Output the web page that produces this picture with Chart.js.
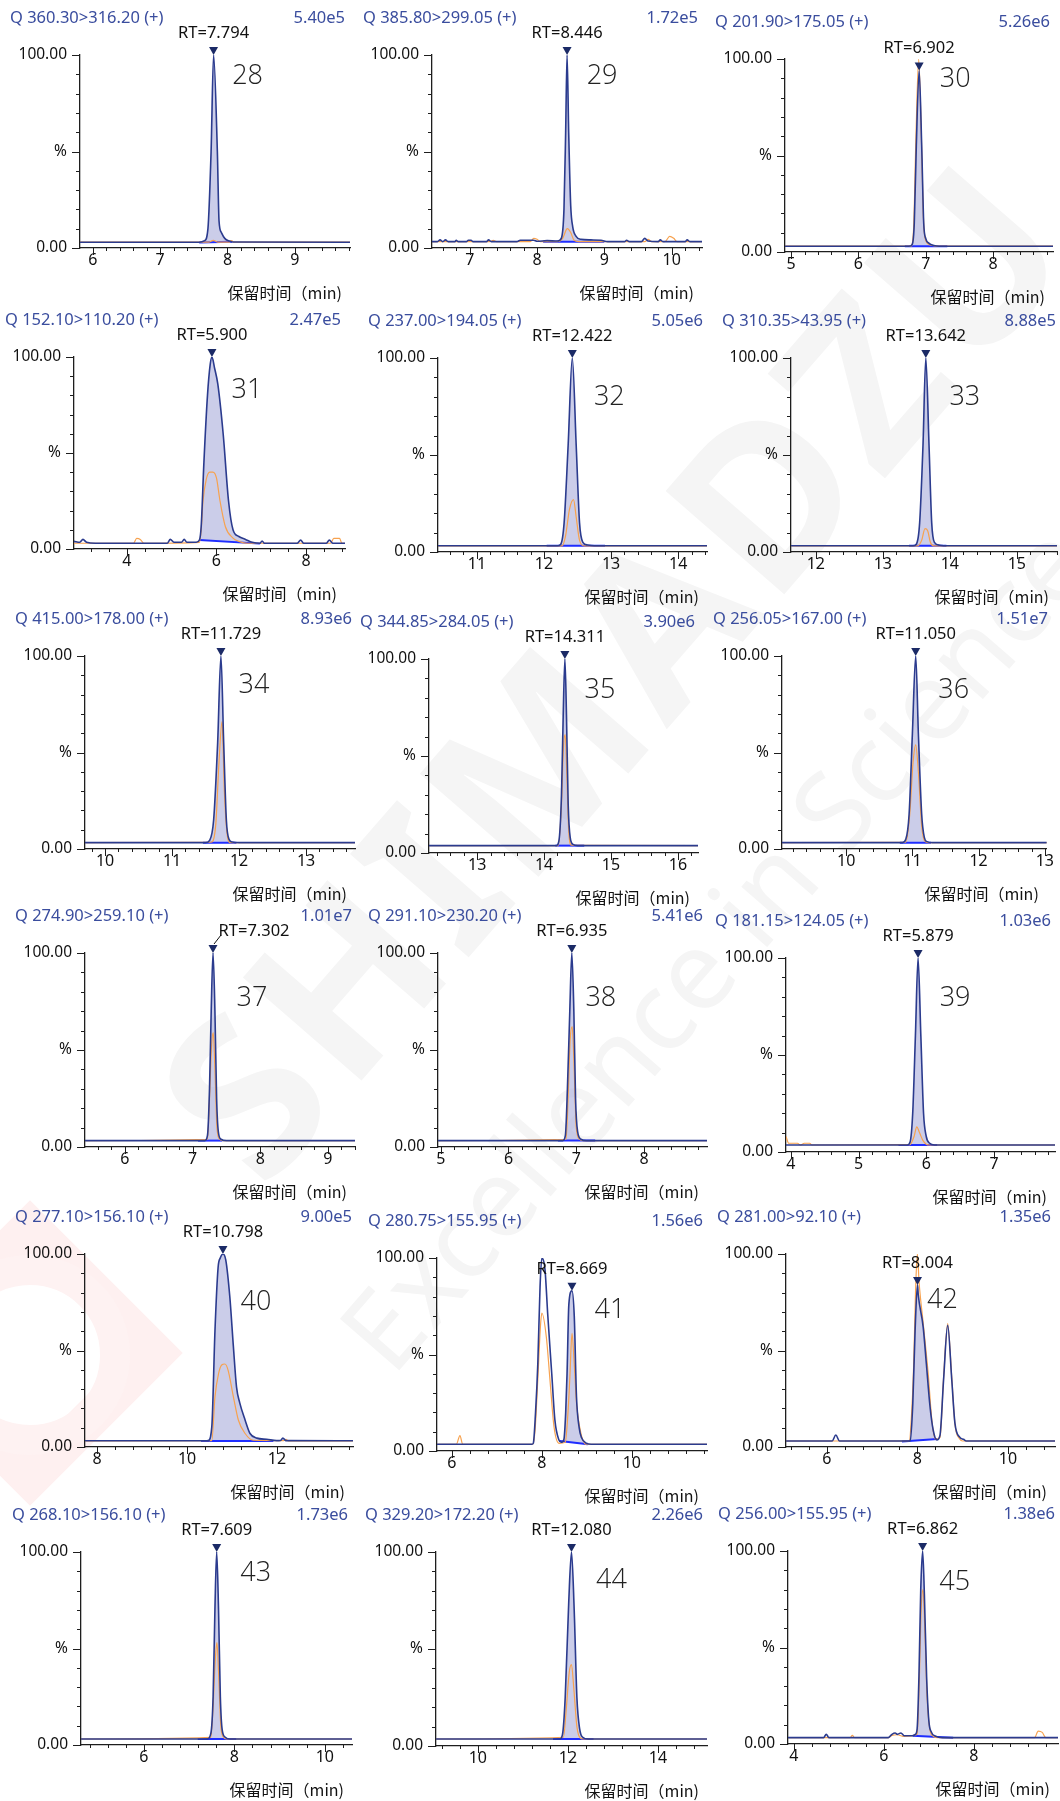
<!DOCTYPE html>
<html>
<head>
<meta charset="utf-8">
<script src="https://cdn.jsdelivr.net/npm/chart.js@4.4.1/dist/chart.umd.min.js"></script>
<style>
  body { margin: 0; background: #fff; }
  #page { position: relative; width: 1060px; height: 1801px; overflow: hidden; background: #fff; }
  #page canvas { position: absolute; }
  .wm { position: absolute; text-align: center; white-space: nowrap; color: #f5f5f5; font-family: "Noto Sans", sans-serif; }
  .logo { position: absolute; box-sizing: border-box; }
</style>
</head>
<body>
<div id="page">
  <div class="logo" style="left:-78px; top:1245px; width:216px; height:216px; border:38px solid #fef0f0; transform:rotate(45deg);"></div>
  <div class="logo" style="left:-70px; top:1255px; width:200px; height:200px; border:30px solid #fef2f2; border-radius:50%;"></div>
  <div class="wm" style="left:-90px; top:535px; width:1400px; height:260px; line-height:260px; font-size:220px; font-weight:700; letter-spacing:8px; transform:rotate(-49deg);">SHIMADZU</div>
  <div class="wm" style="left:12px; top:880px; width:1400px; height:130px; line-height:130px; font-size:110px; transform:rotate(-49deg);">Excellence in Science</div>
</div>
<script>
// Chromatograms for compounds 28-45 (MRM, normalised intensity %)

const compoundNos = [28, 29, 30, 31, 32, 33, 34, 35, 36, 37, 38, 39, 40, 41, 42, 43, 44, 45];
const transitions = [
  'Q 360.30>316.20 (+)', 'Q 385.80>299.05 (+)', 'Q 201.90>175.05 (+)',
  'Q 152.10>110.20 (+)', 'Q 237.00>194.05 (+)', 'Q 310.35>43.95 (+)',
  'Q 415.00>178.00 (+)', 'Q 344.85>284.05 (+)', 'Q 256.05>167.00 (+)',
  'Q 274.90>259.10 (+)', 'Q 291.10>230.20 (+)', 'Q 181.15>124.05 (+)',
  'Q 277.10>156.10 (+)', 'Q 280.75>155.95 (+)', 'Q 281.00>92.10 (+)',
  'Q 268.10>156.10 (+)', 'Q 329.20>172.20 (+)', 'Q 256.00>155.95 (+)'
];
const maxIntensity = [
  '5.40e5', '1.72e5', '5.26e6', '2.47e5', '5.05e6', '8.88e5',
  '8.93e6', '3.90e6', '1.51e7', '1.01e7', '5.41e6', '1.03e6',
  '9.00e5', '1.56e6', '1.35e6', '1.73e6', '2.26e6', '1.38e6'
];
const retentionTimes = [7.794, 8.446, 6.902, 5.900, 12.422, 13.642, 11.729, 14.311, 11.050,
  7.302, 6.935, 5.879, 10.798, 8.669, 8.004, 7.609, 12.080, 6.862];
const peakHeights = [100, 100, 94, 100, 100, 100, 100, 100, 100, 100, 100, 100, 100, 83, 84, 100, 100, 100];
const timeRanges = [
  [5.81, 9.82], [6.44, 10.45], [4.91, 8.89],
  [2.82, 8.87], [10.42, 14.43], [11.63, 15.60],
  [9.70, 13.73], [12.28, 16.30], [9.03, 13.03],
  [5.41, 9.40], [4.96, 8.93], [3.93, 7.90],
  [7.73, 13.69], [5.67, 11.67], [5.10, 11.04],
  [4.61, 10.60], [9.07, 15.09], [3.87, 9.87]
];
const majorSteps = [1, 1, 1, 2, 1, 1, 1, 1, 1, 1, 1, 1, 2, 2, 2, 2, 2, 2];
// integration baseline: [start time, start %, end time, end %]
const integrationWindows = [
  [7.58, 2.8, 8.07, 3.3], [8.09, 3.3, 9.0, 3.3], [6.69, 3.0, 7.32, 3.0],
  [5.62, 4.7, 6.97, 2.8], [12.04, 3.2, 12.91, 3.2], [13.39, 3.2, 13.95, 3.2],
  [11.46, 3.3, 11.96, 3.3], [14.17, 3.8, 14.60, 3.8], [10.81, 3.3, 11.28, 3.3],
  [7.08, 3.3, 7.44, 3.3], [6.73, 3.3, 7.28, 3.3], [5.59, 3.6, 6.16, 3.6],
  [10.31, 3.1, 11.92, 3.1], [8.40, 5.2, 9.02, 3.5], [7.66, 2.8, 8.44, 4.1],
  [7.19, 3.1, 8.04, 3.1], [11.67, 3.6, 12.57, 3.6], [6.64, 4.3, 7.54, 3.3]
];

// quantifier traces (blue) and qualifier traces (orange), [time, %]
const trace28 = [[5.81,3],[7.58,3],[7.66,3.8],[7.71,10],[7.757,50],[7.794,100],[7.85,50],[7.875,14],[7.91,8],[7.96,5],[8.03,3.6],[8.08,3.1],[9.82,3]];
const ion28 = [[5.81,3],[7.72,3],[7.79,4],[7.86,3],[8.02,3],[8.06,3.8],[8.1,3],[9.82,3]];
const trace29 = [[6.44,3.3],[6.52,3.3],[6.56,4.2],[6.6,3.3],[6.64,4.2],[6.68,3.3],[6.78,3.3],[6.8,4],[6.83,3.3],[6.95,3.3],[6.98,4],[7.02,4],[7.05,3.3],[7.25,3.3],[7.28,4.2],[7.32,3.3],[7.7,3.3],[7.75,4],[7.95,4],[8.0,3.5],[8.15,3.8],[8.3,3.6],[8.36,5],[8.40,20],[8.425,60],[8.446,100],[8.47,60],[8.50,22],[8.53,11],[8.58,6],[8.65,4.5],[8.8,4.2],[8.95,4],[9.05,3.3],[9.3,3.3],[9.33,4],[9.37,3.3],[9.55,3.3],[9.6,5],[9.65,3.6],[9.8,3.3],[9.83,4.2],[9.87,3.3],[10.2,3.3],[10.23,4.2],[10.27,3.3],[10.45,3.3]];
const ion29 = [[6.44,3.3],[7.3,3.3],[7.35,4],[7.4,3.3],[7.9,3.3],[7.95,5],[8.0,4.5],[8.05,3.3],[8.3,3.3],[8.38,5],[8.45,10],[8.5,8],[8.55,4],[8.62,3.3],[9.6,3.3],[9.65,4.5],[9.7,3.3],[9.9,3.3],[9.97,6],[10.03,5],[10.08,3.3],[10.45,3.3]];
const trace30 = [[4.91,3],[6.75,3],[6.80,4],[6.83,15],[6.86,55],[6.902,94],[6.94,55],[6.97,15],[7.0,7],[7.05,4.5],[7.12,3.4],[7.2,3],[8.89,3]];
const ion30 = [[4.91,3],[6.78,3],[6.82,12],[6.855,60],[6.895,100],[6.935,60],[6.965,18],[7.0,6],[7.08,3.6],[7.15,3],[8.89,3]];
const trace31 = [[2.82,4],[2.95,3.5],[3.02,5],[3.1,3.5],[3.3,3],[4.9,3],[4.97,5],[5.05,3.5],[5.22,3.5],[5.28,5],[5.34,3.5],[5.55,3.5],[5.62,4.7],[5.66,12],[5.72,45],[5.80,80],[5.86,96],[5.9,100],[5.96,94],[6.03,86],[6.15,60],[6.27,25],[6.37,10],[6.5,6.5],[6.65,5],[6.8,3.5],[6.97,3],[7.02,4.2],[7.07,3],[7.8,3],[7.88,4.6],[7.95,3],[8.45,3],[8.52,4.6],[8.6,3],[8.87,3]];
const ion31 = [[2.82,3],[4.15,3],[4.22,5.5],[4.3,5],[4.38,3],[5.62,3.5],[5.66,10],[5.70,25],[5.77,36],[5.85,40],[5.92,40],[6.0,37],[6.08,25],[6.2,11.6],[6.37,5.7],[6.5,4],[6.7,3],[8.55,3],[8.62,5.5],[8.75,5.5],[8.8,3],[8.87,3]];
const trace32 = [[10.42,3.2],[12.20,3.2],[12.25,4],[12.30,15],[12.36,55],[12.422,100],[12.48,55],[12.53,15],[12.58,5],[12.65,3.6],[12.75,3.2],[14.43,3.2]];
const ion32 = [[10.42,3.2],[12.27,3.2],[12.32,8],[12.38,22],[12.44,27],[12.48,18],[12.53,6],[12.6,3.2],[14.43,3.2]];
const trace33 = [[11.63,3.2],[13.45,3.2],[13.50,4],[13.55,15],[13.60,55],[13.642,100],[13.69,55],[13.73,15],[13.77,5],[13.85,3.5],[13.95,3.2],[15.60,3.2]];
const ion33 = [[11.63,3.2],[13.52,3.2],[13.58,6],[13.63,12],[13.67,11],[13.71,5],[13.76,3.2],[15.60,3.2]];
const trace34 = [[9.70,3.3],[11.50,3.3],[11.56,4.5],[11.62,15],[11.68,55],[11.729,100],[11.77,55],[11.81,15],[11.85,5],[11.9,3.6],[12.0,3.3],[13.73,3.3]];
const ion34 = [[9.70,3.3],[11.58,3.5],[11.65,12],[11.70,45],[11.745,66],[11.78,30],[11.82,8],[11.86,3.3],[13.73,3.3]];
const trace35 = [[12.28,3.8],[14.18,3.8],[14.22,6],[14.26,30],[14.285,70],[14.311,100],[14.335,70],[14.36,25],[14.39,8],[14.43,4.5],[14.5,3.8],[16.30,3.8]];
const ion35 = [[12.28,3.8],[14.21,3.8],[14.26,25],[14.29,55],[14.315,61],[14.34,40],[14.37,10],[14.41,4],[16.30,3.8]];
const trace36 = [[9.03,3.3],[10.85,3.3],[10.90,5],[10.95,18],[11.00,60],[11.05,100],[11.09,60],[11.14,18],[11.18,6],[11.22,3.8],[11.3,3.3],[13.03,3.3]];
const ion36 = [[9.03,3.3],[10.9,3.5],[10.96,18],[11.01,45],[11.05,54],[11.09,40],[11.14,12],[11.19,4],[11.25,3.3],[13.03,3.3]];
const trace37 = [[5.41,3.3],[7.18,3.3],[7.22,6],[7.25,30],[7.275,70],[7.302,100],[7.33,70],[7.355,25],[7.38,8],[7.42,4],[7.5,3.3],[9.40,3.3]];
const ion37 = [[5.41,3.3],[7.22,4],[7.25,25],[7.28,52],[7.305,59],[7.33,40],[7.36,10],[7.40,4],[7.45,3.3],[9.40,3.3]];
const trace38 = [[4.96,3.3],[6.80,3.3],[6.84,6],[6.87,30],[6.905,70],[6.935,100],[6.965,70],[6.99,25],[7.02,8],[7.07,4],[7.15,3.3],[8.93,3.3]];
const ion38 = [[4.96,3.3],[6.85,4],[6.88,25],[6.91,55],[6.94,62],[6.97,40],[7.0,10],[7.05,4],[7.1,3.3],[8.93,3.3]];
const trace39 = [[3.93,3.6],[5.72,3.6],[5.76,5],[5.80,20],[5.84,60],[5.879,100],[5.92,60],[5.96,20],[6.0,8],[6.05,4.5],[6.12,3.6],[7.90,3.6]];
const ion39 = [[3.93,8],[3.97,4.5],[4.1,4.5],[4.14,3.6],[4.2,4.5],[4.28,4.5],[4.31,3.6],[5.76,3.8],[5.82,8],[5.86,13],[5.9,10],[5.95,6],[6.0,4],[6.05,3.6],[7.90,3.6]];
const trace40 = [[7.73,3.2],[10.40,3.2],[10.47,3.3],[10.55,10.5],[10.62,60],[10.69,93],[10.74,98],[10.798,100],[10.86,97],[10.95,78],[11.03,52],[11.1,31],[11.17,23],[11.29,14],[11.4,7],[11.55,4.6],[11.77,4],[11.99,3.3],[12.08,3.4],[12.13,4.6],[12.2,3.3],[13.69,3.2]];
const ion40 = [[7.73,3.2],[10.55,3.3],[10.62,26],[10.7,38],[10.77,42.5],[10.84,43],[10.91,40],[11.03,26],[11.14,14],[11.29,7],[11.47,3.5],[12.15,3.3],[12.2,4],[12.25,3.2],[13.69,3.2]];
const trace41 = [[5.67,3.5],[7.78,3.5],[7.81,4],[7.86,20],[7.91,45],[7.96,85],[8.0,100],[8.07,94],[8.13,71],[8.22,40],[8.29,16],[8.38,5.7],[8.43,4.5],[8.49,6],[8.53,20],[8.56,40],[8.60,76],[8.669,83],[8.72,70],[8.77,28],[8.83,12],[8.88,7],[8.99,4],[9.1,3.5],[11.67,3.5]];
const ion41 = [[5.67,3.5],[6.1,3.5],[6.18,8],[6.24,3.5],[7.80,3.5],[7.85,11],[7.91,37],[7.97,65],[8.0,71.5],[8.1,59],[8.18,37],[8.27,12.6],[8.38,4],[8.52,4.5],[8.58,19.6],[8.62,37],[8.67,61],[8.72,45],[8.77,25],[8.88,8],[8.95,4],[9.0,3.5],[11.67,3.5]];
const trace42 = [[5.10,3.1],[6.12,3.1],[6.2,6.2],[6.28,3.1],[7.80,3.1],[7.84,3.3],[7.90,22.7],[7.95,60],[8.004,84],[8.02,79],[8.13,62],[8.20,43],[8.28,21],[8.35,8.8],[8.43,3.6],[8.50,6],[8.58,35],[8.67,63],[8.76,35],[8.83,12.4],[8.94,5],[9.02,4],[9.08,3.1],[11.04,3.1]];
const ion42 = [[5.10,3.1],[7.82,3.1],[7.88,20],[7.92,43],[7.96,80],[8.0,100],[8.04,85],[8.13,64],[8.24,38],[8.32,14],[8.4,4],[8.5,5],[8.58,36],[8.67,64],[8.76,36],[8.83,12],[8.94,4],[9.0,3.1],[11.04,3.1]];
const trace43 = [[4.61,3.1],[7.40,3.1],[7.48,6],[7.53,25],[7.57,70],[7.609,100],[7.65,70],[7.69,25],[7.73,8],[7.8,4],[7.9,3.1],[10.60,3.1]];
const ion43 = [[4.61,3.1],[7.48,4],[7.53,20],[7.58,45],[7.615,53],[7.65,38],[7.70,10],[7.76,4],[7.82,3.1],[10.60,3.1]];
const trace44 = [[9.07,3.6],[11.82,3.6],[11.88,6],[11.94,25],[12.02,75],[12.08,100],[12.14,70],[12.2,25],[12.26,9],[12.33,4.5],[12.45,3.6],[15.09,3.6]];
const ion44 = [[9.07,3.6],[11.9,4.5],[11.96,18],[12.03,38],[12.08,42],[12.13,30],[12.2,10],[12.28,4],[12.35,3.6],[15.09,3.6]];
const trace45 = [[3.87,3.3],[4.66,3.3],[4.72,5],[4.78,3.3],[6.1,3.3],[6.18,5],[6.25,5.7],[6.3,5],[6.38,5.7],[6.45,4.3],[6.64,4.3],[6.70,5],[6.74,8],[6.78,35],[6.82,80],[6.862,100],[6.90,78],[6.95,35],[7.0,12],[7.06,6],[7.15,4],[7.3,3.3],[9.87,3.3]];
const ion45 = [[3.87,3.3],[5.25,3.3],[5.3,4.5],[5.35,3.3],[6.1,3.3],[6.18,4.5],[6.3,4.8],[6.42,4],[6.74,5],[6.79,35],[6.83,70],[6.87,80],[6.91,60],[6.96,25],[7.02,8],[7.1,4],[7.2,3.3],[9.35,3.3],[9.43,6.7],[9.52,6],[9.6,3.3],[9.87,3.3]];

const traces = [trace28, trace29, trace30, trace31, trace32, trace33, trace34, trace35, trace36,
  trace37, trace38, trace39, trace40, trace41, trace42, trace43, trace44, trace45];
const ions = [ion28, ion29, ion30, ion31, ion32, ion33, ion34, ion35, ion36,
  ion37, ion38, ion39, ion40, ion41, ion42, ion43, ion44, ion45];

// panel placement on the page (px)
const axisLeft = [80, 432, 785, 74, 438, 791, 85, 429, 782, 85, 438, 786, 85, 437, 786, 81, 436, 788];
const axisRight = [350, 702, 1053, 345, 707, 1057, 355, 698, 1051, 355, 707, 1055, 353, 707, 1055, 352, 707, 1058];
const axisTop = [55, 55, 59, 357, 358, 358, 656, 659, 656, 953, 953, 958, 1254, 1258, 1254, 1552, 1552, 1551];
const axisBottom = [248, 248, 252, 549, 552, 552, 849, 853, 849, 1147, 1147, 1152, 1447, 1451, 1447, 1745, 1746, 1744];
const titleLeft = [10, 363, 715, 5, 368, 722, 15, 360, 713, 15, 368, 715, 15, 368, 717, 12, 365, 718];
const titleRight = [345, 698, 1050, 341, 703, 1056, 352, 695, 1048, 352, 703, 1051, 352, 703, 1051, 348, 703, 1055];
const numberOffset = [[34, 21], [35, 21], [36, 20], [35, 33], [37, 39], [39, 39], [33, 29], [35, 31], [38, 34],
  [39, 45], [29, 45], [37, 40], [33, 48], [38, 52], [25, 46], [39, 21], [40, 28], [32, 31]];
const rtLabelShift = [0, 0, 0, 0, 0, 0, 0, 0, 0, 41, 0, 0, 0, 0, 0, 0, 0, 0];

const NAVY = '#2b3b8e';
const ORANGE = '#f7a24f';
const BASE_BLUE = '#1f2dff';
const FILL = 'rgba(168, 172, 218, 0.6)';
const MARKER = '#1b2a66';
const TITLE_BLUE = '#3a4d9e';
const AXIS = '#1e1e1e';
const LATIN = '"Noto Sans", "Open Sans", sans-serif';
const CJK = '"Noto Sans CJK SC", "Noto Sans", sans-serif';

const PAD_L = 82, PAD_T = 64, PAD_R = 6, PAD_B = 58;

const toXY = (arr) => arr.map(([x, y]) => ({ x, y }));

// part of a trace inside the integration window, closed on the window edges
function peakSegment(trace, win) {
  const [t0, , t1] = win;
  const at = (t) => {
    for (let k = 1; k < trace.length; k++) {
      const [xa, ya] = trace[k - 1];
      const [xb, yb] = trace[k];
      if (t >= xa && t <= xb) return ya + (yb - ya) * (t - xa) / (xb - xa);
    }
    return trace[trace.length - 1][1];
  };
  const inside = trace.filter(([t]) => t > t0 && t < t1);
  return [[t0, at(t0)], ...inside, [t1, at(t1)]];
}

function isMajor(v, step) {
  const r = v / step;
  return Math.abs(r - Math.round(r)) < 1e-6;
}

function tickValues(min, max, step) {
  const out = [];
  for (let k = Math.ceil(min / step - 1e-9); k * step <= max + 1e-9; k++) {
    out.push(Math.round(k * step * 1000) / 1000);
  }
  return out;
}

function decorPlugin(i, originX) {
  return {
    id: 'decor' + i,
    afterDraw(chart) {
      const { ctx, scales: { x: xs, y: ys } } = chart;
      const step = majorSteps[i];
      ctx.save();

      // tick marks
      ctx.strokeStyle = AXIS;
      ctx.lineWidth = 1;
      ctx.beginPath();
      xs.ticks.forEach((t) => {
        const px = Math.round(xs.getPixelForValue(t.value)) + 0.5;
        const len = isMajor(t.value, step) ? 7 : 3;
        ctx.moveTo(px, ys.bottom);
        ctx.lineTo(px, ys.bottom + len);
      });
      ys.ticks.forEach((t) => {
        const py = Math.round(ys.getPixelForValue(t.value)) + 0.5;
        const len = t.value % 50 === 0 ? 8 : 4;
        ctx.moveTo(xs.left - len, py);
        ctx.lineTo(xs.left, py);
      });
      ctx.stroke();

      // transition and max intensity
      const titleY = ys.top - 37;
      ctx.font = `16.5px ${LATIN}`;
      ctx.fillStyle = TITLE_BLUE;
      ctx.textBaseline = 'middle';
      ctx.textAlign = 'left';
      ctx.fillText(transitions[i], titleLeft[i] - originX, titleY);
      ctx.textAlign = 'right';
      ctx.fillText(maxIntensity[i], titleRight[i] - originX, titleY);

      // peak marker and retention time
      const rt = retentionTimes[i];
      const px = xs.getPixelForValue(rt);
      const tip = ys.getPixelForValue(peakHeights[i]);
      ctx.fillStyle = MARKER;
      ctx.beginPath();
      ctx.moveTo(px - 4.5, tip - 8);
      ctx.lineTo(px + 4.5, tip - 8);
      ctx.lineTo(px, tip);
      ctx.closePath();
      ctx.fill();

      const shift = rtLabelShift[i];
      if (shift) {
        ctx.strokeStyle = '#111';
        ctx.beginPath();
        ctx.moveTo(px + 1, tip - 9);
        ctx.lineTo(px + 8, tip - 18);
        ctx.stroke();
      }
      ctx.font = `16.5px ${LATIN}`;
      ctx.fillStyle = '#111';
      ctx.textAlign = 'center';
      ctx.fillText('RT=' + rt.toFixed(3), px + shift, tip - 22);

      // compound number
      const [dx, dy] = numberOffset[i];
      ctx.font = `300 27px "Open Sans", ${LATIN}`;
      ctx.fillStyle = '#222';
      ctx.fillText(String(compoundNos[i]), px + dx, ys.top + dy);

      // time axis title
      ctx.font = `16px ${CJK}`;
      ctx.fillStyle = '#111';
      ctx.textAlign = 'right';
      ctx.fillText('保留时间（min)', xs.right - 8, ys.bottom + 45);

      ctx.restore();
    }
  };
}

function buildPanel(i) {
  const page = document.getElementById('page');
  const canvas = document.createElement('canvas');
  const left = axisLeft[i] - PAD_L;
  const top = axisTop[i] - PAD_T;
  const w = axisRight[i] - axisLeft[i] + PAD_L + PAD_R;
  const h = axisBottom[i] - axisTop[i] + PAD_T + PAD_B;
  canvas.width = w;
  canvas.height = h;
  canvas.style.left = left + 'px';
  canvas.style.top = top + 'px';
  canvas.style.width = w + 'px';
  canvas.style.height = h + 'px';
  page.appendChild(canvas);

  const [xmin, xmax] = timeRanges[i];
  const win = integrationWindows[i];
  const step = majorSteps[i];

  new Chart(canvas, {
    type: 'line',
    data: {
      datasets: [
        {
          label: 'quantifier',
          data: toXY(traces[i]),
          borderColor: NAVY,
          borderWidth: 1.6,
          pointRadius: 0,
          cubicInterpolationMode: 'monotone',
          fill: false,
          order: 0,
        },
        {
          label: 'qualifier',
          data: toXY(ions[i]),
          borderColor: ORANGE,
          borderWidth: 1.2,
          pointRadius: 0,
          cubicInterpolationMode: 'monotone',
          fill: false,
          order: 1,
        },
        {
          label: 'baseline',
          data: [{ x: win[0], y: win[1] }, { x: win[2], y: win[3] }],
          borderColor: BASE_BLUE,
          borderWidth: 2,
          pointRadius: 0,
          fill: false,
          order: 2,
        },
        {
          label: 'area',
          data: toXY(peakSegment(traces[i], win)),
          borderWidth: 0,
          borderColor: 'rgba(0,0,0,0)',
          backgroundColor: FILL,
          pointRadius: 0,
          cubicInterpolationMode: 'monotone',
          fill: { target: 2 },
          order: 3,
        },
      ],
    },
    options: {
      responsive: false,
      animation: false,
      events: [],
      layout: { padding: { left: 0, top: PAD_T, right: PAD_R, bottom: 0 } },
      plugins: { legend: { display: false }, tooltip: { enabled: false } },
      scales: {
        x: {
          type: 'linear',
          min: xmin,
          max: xmax,
          afterFit: (s) => { s.height = PAD_B; },
          afterBuildTicks: (s) => {
            s.ticks = tickValues(xmin, xmax, step / 5).map((v) => ({ value: v }));
          },
          ticks: {
            autoSkip: false,
            maxRotation: 0,
            padding: 3,
            color: '#111',
            font: { family: LATIN, size: 16 },
            callback: (v) => (isMajor(v, step) ? String(Math.round(v)) : ''),
          },
          grid: { display: false, drawTicks: false },
          border: { display: true, color: AXIS, width: 1.3 },
        },
        y: {
          min: 0,
          max: 100,
          afterFit: (s) => { s.width = PAD_L; },
          afterBuildTicks: (s) => {
            s.ticks = tickValues(0, 100, 10).map((v) => ({ value: v }));
          },
          ticks: {
            autoSkip: false,
            padding: 13,
            color: '#111',
            font: { family: LATIN, size: 15.5 },
            callback: (v) => (v === 100 ? '100.00' : v === 50 ? '%' : v === 0 ? '0.00' : ''),
          },
          grid: { display: false, drawTicks: false },
          border: { display: true, color: AXIS, width: 1.3 },
        },
      },
    },
    plugins: [decorPlugin(i, left)],
  });
}

compoundNos.forEach((_, i) => buildPanel(i));
</script>
</body>
</html>
